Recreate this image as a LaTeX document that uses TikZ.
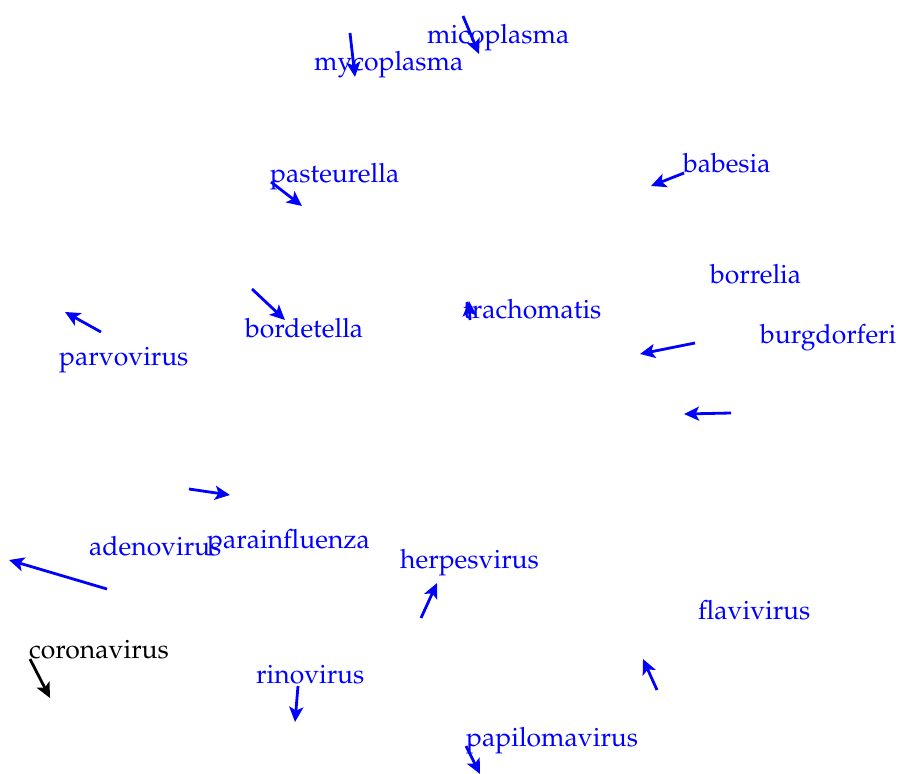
\documentclass[tikz,border=0pt]{standalone}
\usepackage[T1]{fontenc}
\usepackage{mathpazo}
\usetikzlibrary{arrows.meta}
\begin{document}
\begin{tikzpicture}[x=1pt,y=-1pt,
  term/.style={anchor=base west,inner sep=0pt,text=blue,font=\fontsize{26.5}{30}\selectfont},
  vec/.style={draw=blue,line width=2.8pt,-{Stealth[length=15pt,width=14pt,inset=3.5pt]}},
  termk/.style={term,text=black},
  veck/.style={vec,draw=black}]
\useasboundingbox (0,0) rectangle (901,773);
% word labels
\node[term] (micoplasma) at (427,44) {micoplasma};
\node[term] (mycoplasma) at (314,71) {mycoplasma};
\node[term] (pasteurella) at (270,182) {pasteurella};
\node[term] (babesia) at (683,172) {babesia};
\node[term] (borrelia) at (710,283) {borrelia};
\node[term] (burgdorferi) at (760,343) {burgdorferi};
\node[term] (trachomatis) at (463,318) {trachomatis};
\node[term] (bordetella) at (245,337) {bordetella};
\node[term] (parvovirus) at (59,365) {parvovirus};
\node[term] (adenovirus) at (89,555) {adenovirus};
\node[term] (parainfluenza) at (207,548) {parainfluenza};
\node[term] (herpesvirus) at (400,568) {herpesvirus};
\node[term] (flavivirus) at (698,619) {flavivirus};
\node[termk] (coronavirus) at (29,658) {coronavirus};
\node[term] (rinovirus) at (256,683) {rinovirus};
\node[term] (papilomavirus) at (466,746) {papilomavirus};
% displacement vectors
\coordinate (a1) at (350,33);  \coordinate (b1) at (355,77);
\coordinate (a2) at (463,16);  \coordinate (b2) at (479,54);
\coordinate (a3) at (271,182); \coordinate (b3) at (302,206);
\coordinate (a4) at (684,173); \coordinate (b4) at (651,186);
\coordinate (a5) at (252,289); \coordinate (b5) at (285,320);
\coordinate (a6) at (470,320); \coordinate (b6) at (469,301);
\coordinate (a7) at (101,332); \coordinate (b7) at (65,312);
\coordinate (a8) at (695,343); \coordinate (b8) at (640,354);
\coordinate (a9) at (731,413); \coordinate (b9) at (684,414);
\coordinate (a10) at (189,489); \coordinate (b10) at (230,495);
\coordinate (a11) at (107,589); \coordinate (b11) at (9,560);
\coordinate (a12) at (421,618); \coordinate (b12) at (437,583);
\coordinate (a13) at (657,690); \coordinate (b13) at (643,659);
\coordinate (a14) at (30,659);  \coordinate (b14) at (50,698);
\coordinate (a15) at (298,686); \coordinate (b15) at (295,722);
\coordinate (a16) at (466,746); \coordinate (b16) at (480,774);
\foreach \i in {1,...,13,15,16} \draw[vec] (a\i) -- (b\i);
\draw[veck] (a14) -- (b14);
\end{tikzpicture}
\end{document}
